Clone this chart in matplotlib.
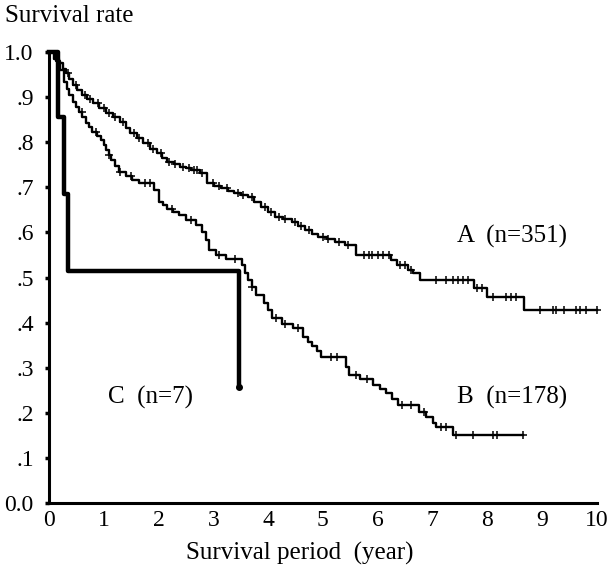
import numpy as np
import matplotlib
matplotlib.use("Agg")
import matplotlib.pyplot as plt

plt.rcParams['font.family'] = ['Liberation Serif', 'Noto Sans CJK JP', 'DejaVu Serif']

# ---- data ----
a_times = [0, 0.10, 0.18, 0.25, 0.31, 0.37, 0.43, 0.52, 0.61, 0.70, 0.80, 0.92, 1.05, 1.17, 1.29,
           1.40, 1.48, 1.60, 1.72, 1.85, 1.97, 2.06, 2.15, 2.28, 2.40, 2.50, 2.60, 2.75, 2.89, 3.02,
           3.14, 3.26, 3.38, 3.50, 3.63, 3.75, 3.87, 4.00, 4.12, 4.28, 4.43, 4.55, 4.67, 4.80, 4.92,
           5.08, 5.23, 5.40, 5.60, 6.25, 6.35, 6.55, 6.65, 6.77, 7.75, 7.99, 8.67]
a_surv = [1.0, 0.985, 0.976, 0.963, 0.953, 0.940, 0.927, 0.915, 0.905, 0.895, 0.886, 0.875, 0.864, 0.855, 0.845,
          0.832, 0.820, 0.809, 0.798, 0.786, 0.775, 0.766, 0.757, 0.751, 0.746, 0.742, 0.738, 0.731, 0.709, 0.703,
          0.698, 0.692, 0.687, 0.683, 0.679, 0.668, 0.657, 0.646, 0.635, 0.630, 0.624, 0.614, 0.605, 0.597, 0.590,
          0.585, 0.579, 0.572, 0.550, 0.539, 0.528, 0.517, 0.509, 0.494, 0.476, 0.457, 0.428]
a_end = 10.0
a_censor = [0.35, 0.5, 0.65, 0.75, 0.9, 1.0, 1.1, 1.2, 1.35, 1.55, 1.65, 1.8, 1.9, 2.05, 2.2, 2.3,
            2.45, 2.55, 2.65, 2.7, 2.8, 3.0, 3.1, 3.25, 3.45, 3.55, 3.7, 3.95, 4.05, 4.2, 4.3, 4.5,
            4.6, 4.75, 5.0, 5.1, 5.3, 5.45, 5.75, 5.85, 5.9, 6.0, 6.1, 6.2, 6.4, 6.5, 6.6, 7.07,
            7.25, 7.37, 7.46, 7.55, 7.65, 7.82, 7.9, 8.10, 8.35, 8.44, 8.53, 8.96, 9.20, 9.26,
            9.41, 9.63, 9.69, 9.81, 10.0]

b_times = [0, 0.12, 0.20, 0.27, 0.32, 0.37, 0.43, 0.49, 0.55, 0.61, 0.67, 0.73, 0.79, 0.87, 0.95,
           1.00, 1.04, 1.09, 1.13, 1.20, 1.28, 1.40, 1.52, 1.65, 1.92, 2.01, 2.08, 2.16, 2.27, 2.38,
           2.50, 2.68, 2.80, 2.86, 2.93, 3.05, 3.23, 3.53, 3.58, 3.63, 3.70, 3.78, 3.93, 4.00, 4.08,
           4.25, 4.45, 4.63, 4.72, 4.81, 4.89, 4.97, 5.42, 5.48, 5.67, 5.91, 6.05, 6.16, 6.27, 6.37,
           6.76, 6.89, 7.01, 7.07, 7.37]
b_surv = [1.0, 0.980, 0.960, 0.934, 0.919, 0.905, 0.890, 0.879, 0.868, 0.855, 0.842, 0.833, 0.823, 0.814, 0.805,
          0.794, 0.783, 0.772, 0.761, 0.748, 0.735, 0.724, 0.716, 0.709, 0.694, 0.668, 0.660, 0.653, 0.646, 0.639,
          0.627, 0.616, 0.601, 0.583, 0.561, 0.550, 0.540, 0.528, 0.511, 0.494, 0.478, 0.461, 0.443, 0.427, 0.410,
          0.398, 0.387, 0.369, 0.358, 0.347, 0.336, 0.324, 0.302, 0.284, 0.276, 0.262, 0.252, 0.243, 0.230, 0.217,
          0.202, 0.191, 0.177, 0.169, 0.151]
b_end = 8.65
b_censor = [0.6, 0.85, 1.1, 1.3, 1.5, 1.75, 1.85, 2.25, 2.6, 3.1, 3.4, 3.7, 4.15, 4.3, 4.55, 5.15,
            5.25, 5.6, 5.8, 6.45, 6.6, 6.85, 7.15, 7.25, 7.43, 7.74, 8.10, 8.17, 8.65]

c_times = [0, 0.17, 0.28, 0.35, 3.47]
c_surv = [1.0, 0.857, 0.686, 0.514, 0.257]
c_end = 3.47

x_ticks = [0, 1, 2, 3, 4, 5, 6, 7, 8, 9, 10]
y_ticks = [0.0, 0.1, 0.2, 0.3, 0.4, 0.5, 0.6, 0.7, 0.8, 0.9, 1.0]
y_ticklabels = ['0.0', '.1', '.2', '.3', '.4', '.5', '.6', '.7', '.8', '.9', '1.0']

labels = ['A  (n=351)', 'B  (n=178)', 'C  (n=7)']
label_pos = [(8.45, 0.59), (8.45, 0.235), (1.85, 0.235)]

# ---- figure ----
fig = plt.figure(figsize=(6.10, 5.73), dpi=100)
ax = fig.add_axes([0.0803, 0.1222, 0.898, 0.787])


def step_value(times, surv, t):
    idx = np.searchsorted(np.asarray(times), t, side='right') - 1
    return np.asarray(surv)[idx]


def draw_km(times, surv, end, lw, censor=None):
    xs = list(times) + [end]
    ys = list(surv) + [surv[-1]]
    ax.step(xs, ys, where='post', color='black', lw=lw, clip_on=False, zorder=3)
    if censor is not None:
        cy = [step_value(times, surv, t) for t in censor]
        ax.plot(censor, cy, ls='none', marker='+', ms=6, mew=1.1, color='black',
                clip_on=False, zorder=4)


draw_km(a_times, a_surv, a_end, 1.7, a_censor)
draw_km(b_times, b_surv, b_end, 1.7, b_censor)
draw_km(c_times, c_surv, c_end, 3.2)
ax.plot([c_end], [c_surv[-1]], 'o', ms=4, color='black', clip_on=False, zorder=4)

for lab, (x, y) in zip(labels, label_pos):
    ax.text(x, y, lab, ha='center', va='center', fontsize=18)

ax.set_xlim(0, 10)
ax.set_ylim(0, 1.0)
ax.set_xticks(x_ticks)
ax.set_xticklabels([str(v) for v in x_ticks], fontsize=17)
ax.set_yticks(y_ticks)
ax.set_yticklabels(y_ticklabels, fontsize=17)
ax.tick_params(axis='x', length=0, pad=5)
ax.tick_params(axis='y', length=3, width=2.5, direction='out', pad=8)

for s in ['top', 'right']:
    ax.spines[s].set_visible(False)
for s in ['left', 'bottom']:
    ax.spines[s].set_linewidth(2.2)

fig.text(5 / 610, 1 - 16 / 573, 'Survival rate', ha='left', va='center', fontsize=18)
fig.text(300 / 610, 1 - 553 / 573, 'Survival period  (year)', ha='center', va='center', fontsize=18)

fig.savefig('out.png', dpi=100)
